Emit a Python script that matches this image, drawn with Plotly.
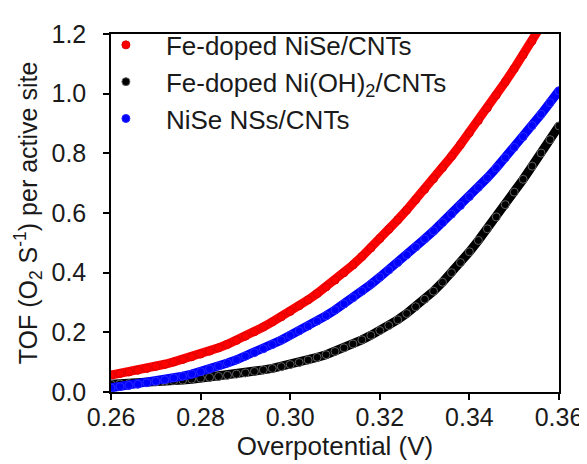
import plotly.graph_objects as go

# Overpotential (V) values, 0.002 V step
overpotential = [round(0.26 + 0.002 * i, 3) for i in range(51)]

tof_fe_nise = [0.057, 0.062, 0.067, 0.073, 0.079, 0.086, 0.093, 0.101, 0.109, 0.118,
               0.127, 0.137, 0.148, 0.160, 0.173, 0.187, 0.202, 0.218, 0.235, 0.252,
               0.270, 0.289, 0.309, 0.330, 0.352, 0.375, 0.400, 0.426, 0.454, 0.483,
               0.514, 0.545, 0.577, 0.610, 0.644, 0.679, 0.715, 0.752, 0.790, 0.829,
               0.869, 0.910, 0.952, 0.995, 1.039, 1.084, 1.130, 1.177, 1.225, 1.274,
               1.324]

tof_fe_nioh = [0.026, 0.027, 0.028, 0.030, 0.032, 0.034, 0.036, 0.038, 0.040, 0.043,
               0.046, 0.049, 0.052, 0.056, 0.060, 0.064, 0.069, 0.074, 0.079, 0.085,
               0.092, 0.099, 0.107, 0.116, 0.125, 0.136, 0.148, 0.161, 0.175, 0.190,
               0.206, 0.223, 0.242, 0.263, 0.286, 0.311, 0.338, 0.368, 0.400, 0.434,
               0.470, 0.508, 0.547, 0.587, 0.628, 0.670, 0.713, 0.757, 0.801, 0.846,
               0.892]

tof_nise = [0.014, 0.018, 0.022, 0.026, 0.031, 0.036, 0.041, 0.047, 0.053, 0.060,
            0.068, 0.077, 0.087, 0.097, 0.108, 0.120, 0.132, 0.145, 0.159, 0.174,
            0.190, 0.205, 0.221, 0.238, 0.256, 0.275, 0.295, 0.316, 0.338, 0.361,
            0.385, 0.409, 0.434, 0.460, 0.486, 0.513, 0.540, 0.568, 0.596, 0.625,
            0.655, 0.686, 0.718, 0.751, 0.785, 0.820, 0.856, 0.893, 0.931, 0.970,
            1.010]

series = [
    ("Fe-doped NiSe/CNTs", tof_fe_nise, "#ff0000", "#d80000"),
    ("Fe-doped Ni(OH)<sub>2</sub>/CNTs", tof_fe_nioh, "#000000", "#606060"),
    ("NiSe NSs/CNTs", tof_nise, "#0000ff", "#2a2aff"),
]

x_ticks = [0.26, 0.28, 0.30, 0.32, 0.34, 0.36]
y_ticks = [0.0, 0.2, 0.4, 0.6, 0.8, 1.0, 1.2]

FONT = "Liberation Sans, Arial, sans-serif"

fig = go.Figure()
for i, (name, vals, col, edge) in enumerate(series):
    fig.add_trace(go.Scatter(
        x=overpotential, y=vals, mode="lines", showlegend=False,
        line=dict(color=col, width=9), legendgroup=f"g{i}", hoverinfo="skip"))
    fig.add_trace(go.Scatter(
        x=overpotential, y=vals, mode="markers", name=name, legendgroup=f"g{i}",
        marker=dict(symbol="circle", size=8, color=col,
                    line=dict(color=edge, width=1))))

axis_common = dict(
    showline=True, linecolor="black", linewidth=1.5, mirror=True,
    ticks="outside", ticklen=6, tickwidth=1.5, tickcolor="black",
    showgrid=False, zeroline=False,
    tickfont=dict(family=FONT, size=25, color="#1a1a1a"),
)

fig.update_layout(
    width=587, height=464,
    margin=dict(l=103, r=29, t=20, b=80),
    paper_bgcolor="white", plot_bgcolor="white",
    font=dict(family=FONT, size=25, color="#1a1a1a"),
    xaxis=dict(range=[0.26, 0.36], tickvals=x_ticks, tickformat=".2f",
               ticklabelstandoff=-4,
               title=dict(text="Overpotential (V)", font=dict(size=26), standoff=0),
               **axis_common),
    yaxis=dict(range=[0.0, 1.2], tickvals=y_ticks, tickformat=".1f",
               ticklabelstandoff=12,
               title=dict(text="TOF (O<sub>2</sub> S<sup>-1</sup>) per active site",
                          font=dict(size=25), standoff=7),
               **axis_common),
    legend=dict(x=-0.056, y=1.035, xanchor="left", yanchor="top",
                bgcolor="rgba(0,0,0,0)", tracegroupgap=0, itemwidth=70,
                font=dict(size=26)),
)

fig.write_html("out.html")
